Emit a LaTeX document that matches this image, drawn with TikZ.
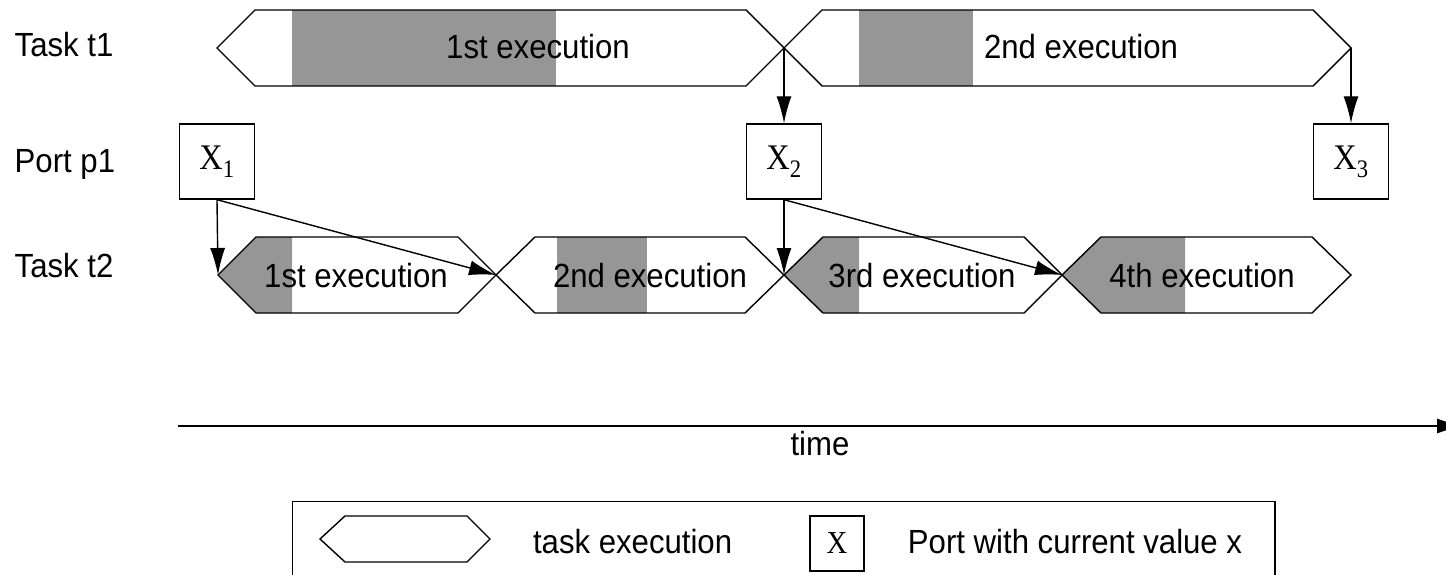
\documentclass[tikz,border=0pt]{standalone}
\usepackage{fontspec}
\setmainfont{Liberation Sans}[FakeStretch=0.93]
\newfontfamily\seriffont{Liberation Serif}[FakeStretch=0.9]
\usetikzlibrary{arrows.meta}
\definecolor{busygray}{RGB}{150,150,150}
\begin{document}
\begin{tikzpicture}[x=1pt,y=-1pt,line width=1.4pt,line join=miter,
  lbl/.style={font=\fontsize{33.5}{38}\selectfont,inner sep=0pt},
  portbox/.style={draw,minimum width=75pt,minimum height=75pt,inner sep=0pt,
    font=\seriffont\fontsize{36}{40}\selectfont},
  legbox/.style={draw,minimum width=54pt,minimum height=55pt,inner sep=0pt,
    font=\seriffont\fontsize{32}{36}\selectfont},
  hexline/.style={draw},
  busy/.style={fill=busygray,draw=none},
  flow/.style={-{Latex[length=27pt,width=15pt]}}]
\useasboundingbox (0,0) rectangle (1446,575);

% row labels
\node[lbl,anchor=base west] (lt1) at (14,57) {Task t1};
\node[lbl,anchor=base west] (lp1) at (14,172) {Port p1};
\node[lbl,anchor=base west] (lt2) at (14,277) {Task t2};

% ---- task t1 executions
\fill[busy] (292,10) rectangle (556,86);
\fill[busy] (859,10) rectangle (973,86);
\draw[hexline] (217,48) -- (255,10) -- (746,10) -- (784,48) -- (746,86) -- (255,86) -- cycle;
\draw[hexline] (784,48) -- (822,10) -- (1313,10) -- (1351,48) -- (1313,86) -- (822,86) -- cycle;
\coordinate (t1end1) at (784,48);
\coordinate (t1end2) at (1351,48);
\node[lbl,anchor=base] (t1e1) at (538,59) {1st execution};
\node[lbl,anchor=base] (t1e2) at (1081,59) {2nd execution};

% ---- port p1
\node[portbox] (x1) at (217,161.5) {X\textsubscript{1}};
\node[portbox] (x2) at (784,161.5) {X\textsubscript{2}};
\node[portbox] (x3) at (1351,161.5) {X\textsubscript{3}};

% ---- task t2 executions
\fill[busy] (218,275) -- (256,237) -- (292,237) -- (292,313) -- (256,313) -- cycle;
\fill[busy] (557,237) rectangle (647,313);
\fill[busy] (784,275) -- (823,237) -- (859,237) -- (859,313) -- (823,313) -- cycle;
\fill[busy] (1062,275) -- (1101,237) -- (1185,237) -- (1185,313) -- (1101,313) -- cycle;
\draw[hexline] (218,275) -- (256,237) -- (458,237) -- (496,275) -- (458,313) -- (256,313) -- cycle;
\draw[hexline] (496,275) -- (535,237) -- (745,237) -- (784,275) -- (745,313) -- (535,313) -- cycle;
\draw[hexline] (784,275) -- (823,237) -- (1024,237) -- (1062,275) -- (1024,313) -- (823,313) -- cycle;
\draw[hexline] (1062,275) -- (1101,237) -- (1312,237) -- (1351,275) -- (1312,313) -- (1101,313) -- cycle;
\coordinate (t2s1) at (218,275);
\coordinate (t2s2) at (496,275);
\coordinate (t2s3) at (784,275);
\coordinate (t2s4) at (1062,275);
\node[lbl,anchor=base] (t2e1) at (356,287) {1st execution};
\node[lbl,anchor=base] (t2e2) at (650,287) {2nd execution};
\node[lbl,anchor=base] (t2e3) at (922,287) {3rd execution};
\node[lbl,anchor=base] (t2e4) at (1202,287) {4th execution};

% ---- connectors
\draw[flow] (t1end1) -- (x2.north);
\draw[flow] (t1end2) -- (x3.north);
\draw[flow] (x1.south) -- (t2s1);
\draw[flow] (x1.south) -- (t2s2);
\draw[flow] (x2.south) -- (t2s3);
\draw[flow] (x2.south) -- (t2s4);

% ---- time axis
\coordinate (tstart) at (178,426);
\coordinate (tend) at (1464,426);
\draw[flow] (tstart) -- (tend);
\node[lbl,anchor=base] (time) at (820,455) {time};

% ---- legend
\draw (292.6,501.7) rectangle (1275,600);
\draw[hexline] (320,539) -- (345,516) -- (467,516) -- (490,539) -- (467,562) -- (345,562) -- cycle;
\node[lbl,anchor=base] (legtask) at (632.6,553) {task execution};
\node[legbox] (legx) at (837,543.5) {X};
\node[lbl,anchor=base] (legport) at (1075,553) {Port with current value x};
\end{tikzpicture}
\end{document}
